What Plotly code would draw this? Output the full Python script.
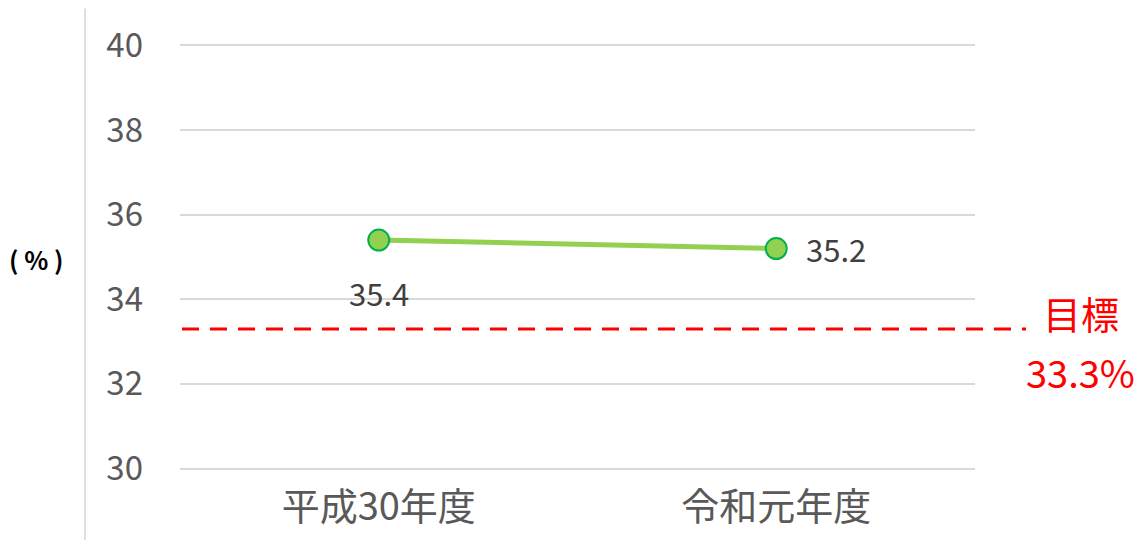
import plotly.graph_objects as go

categories = ["平成30年度", "令和元年度"]
values = [35.4, 35.2]
target = 33.3
y_ticks = [30, 32, 34, 36, 38, 40]
y_range = [29.8, 40.2]

# page body has an 8px margin; work in reference pixel coords and shift
OFF = 8
unit = (469 - 45) / 10.0  # pixels per y unit in the reference
top_pix = 45 - (y_range[1] - 40) * unit
bot_pix = 469 + (30 - y_range[0]) * unit
W, H = 1148 - OFF, 540 - OFF
L, R = 180 - OFF, 1148 - 975
T, B = top_pix - OFF, 540 - bot_pix
pw = W - L - R
ph = H - T - B

def px(xpix):
    return (xpix - OFF - L) / pw

def py(ypix):
    return (H - B - (ypix - OFF)) / ph

fig = go.Figure()
fig.add_trace(go.Scatter(
    x=[0, 1], y=values, mode="lines+markers",
    line=dict(color="#92d050", width=5),
    marker=dict(size=21, color="#92d050", line=dict(color="#00b050", width=2)),
    hoverinfo="skip", showlegend=False, cliponaxis=False,
))
# data labels
fig.add_annotation(x=0, y=values[0], text=f"{values[0]:.1f}", showarrow=False,
                   xref="x", yref="y", yshift=-52, font=dict(size=31, color="#404040"))
fig.add_annotation(x=1, y=values[1], text=f"{values[1]:.1f}", showarrow=False,
                   xref="x", yref="y", xanchor="left", xshift=28, font=dict(size=31, color="#404040"))

# target line
fig.add_shape(type="line", xref="paper", yref="y", x0=px(182), x1=px(1026),
              y0=target, y1=target, line=dict(color="#ff0000", width=3, dash="17px,11px"))
fig.add_annotation(xref="paper", yref="paper", x=px(1081), y=py(313), xanchor="center", yanchor="middle",
                   text="目標", showarrow=False, font=dict(size=38, color="#ff0000"))
fig.add_annotation(xref="paper", yref="paper", x=px(1080), y=py(372), xanchor="center", yanchor="middle",
                   text=f"{target}%", showarrow=False, font=dict(size=38, color="#ff0000"))

# left vertical separator
fig.add_shape(type="line", xref="paper", yref="paper", x0=px(85), x1=px(85),
              y0=py(545), y1=py(8), line=dict(color="#bfbfbf", width=1))
fig.add_annotation(xref="paper", yref="paper", x=px(36), y=py(259), xanchor="center", yanchor="middle",
                   text="<b>( % )</b>", showarrow=False, font=dict(size=25, color="#000000"))

fig.update_layout(
    width=W, height=H, margin=dict(l=L, r=R, t=T, b=B, autoexpand=False),
    paper_bgcolor="white", plot_bgcolor="white",
    font=dict(family="Noto Sans CJK JP, Noto Sans, sans-serif"),
    xaxis=dict(range=[-0.5, 1.5], tickvals=[0, 1], ticktext=categories,
               showgrid=False, zeroline=False, showline=False, automargin=False,
               tickfont=dict(size=38, color="#595959"), ticklabelstandoff=4),
    yaxis=dict(range=y_range, tickvals=y_ticks, showgrid=True, gridcolor="#d9d9d9",
               gridwidth=2, zeroline=False, showline=False, automargin=False,
               tickfont=dict(size=33, color="#595959"), ticklabelstandoff=36),
)
fig.write_html("out.html")
